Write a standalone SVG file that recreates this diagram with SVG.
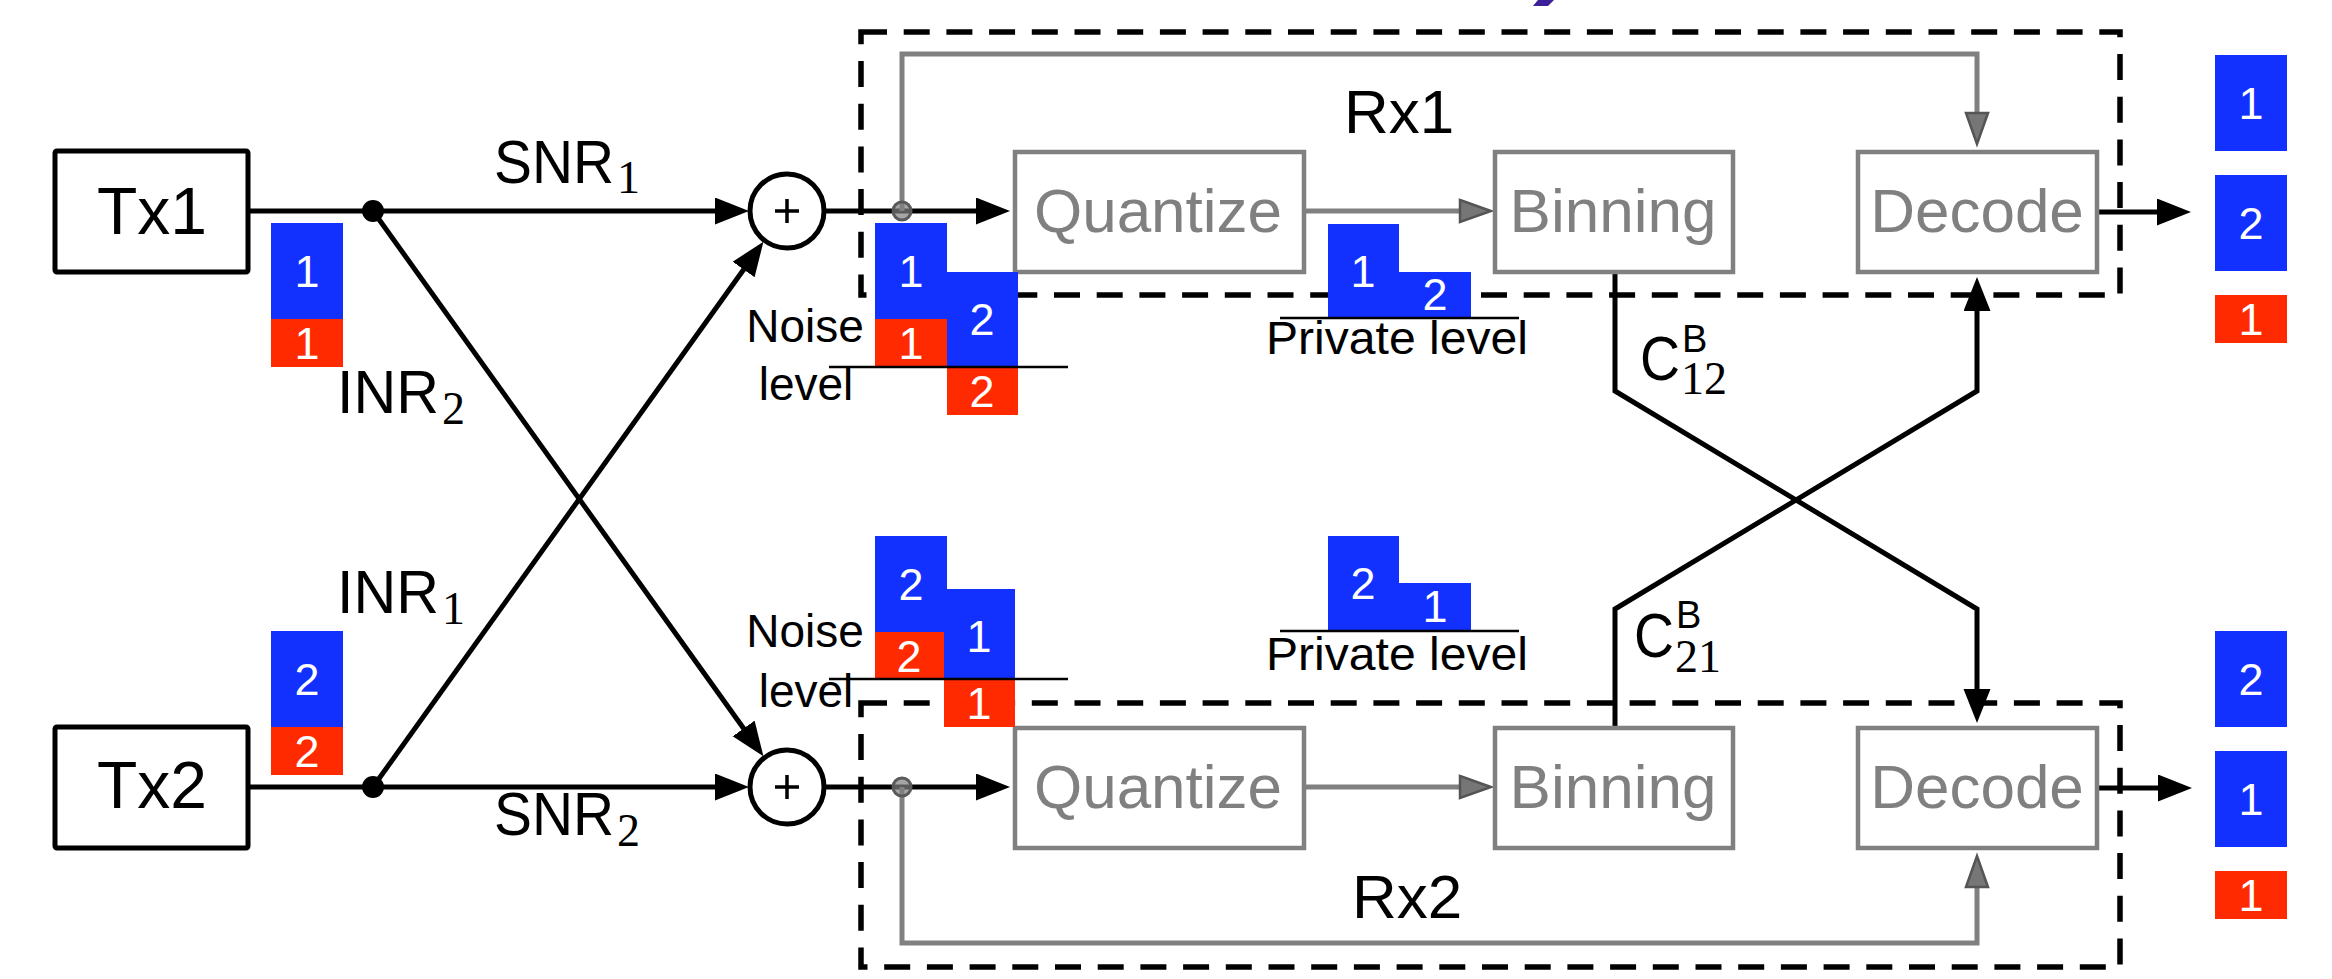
<svg xmlns="http://www.w3.org/2000/svg" width="2332" height="979" viewBox="0 0 2332 979">
<style>
.sans{font-family:"Liberation Sans",Arial,sans-serif}
.serif{font-family:"Liberation Serif","Times New Roman",serif}
.box{fill:#fff;stroke:#000;stroke-width:5}
.gbox{fill:#fff;stroke:#808080;stroke-width:4.5}
.gtxt{font-family:"Liberation Sans",Arial,sans-serif;font-size:62px;fill:#808080;text-anchor:middle}
.blk{font-family:"Liberation Sans",Arial,sans-serif;font-size:45px;fill:#fff;text-anchor:middle}
.blue{fill:#1231ff}
.red{fill:#ff2a00}
.ln{fill:none;stroke:#000;stroke-width:5}
.gln{fill:none;stroke:#808080;stroke-width:5}
.dash{fill:none;stroke:#000;stroke-width:5.5;stroke-dasharray:26 16.7}
.thin{stroke:#000;stroke-width:2.5}
.lbl{font-family:"Liberation Sans",Arial,sans-serif;fill:#000}
</style>
<defs>
<marker id="ah" markerUnits="userSpaceOnUse" markerWidth="36" markerHeight="28" refX="1" refY="13.5" orient="auto">
<path d="M0,0 L34,13.5 L0,27 Z" fill="#000"/>
</marker>
<marker id="gah" markerUnits="userSpaceOnUse" markerWidth="38" markerHeight="30" refX="2" refY="14" orient="auto">
<path d="M2,3 L33,14 L2,25 Z" fill="#767676" stroke="#555" stroke-width="2.5" stroke-linejoin="miter"/>
</marker>
</defs>
<rect width="2332" height="979" fill="#fff"/>
<polygon points="1538,0 1554,0 1548,6 1533,6" fill="#3c1f99"/>

<g id="rx1-frame"><rect class="dash" x="861" y="32" width="1259" height="263"/></g>
<g id="rx2-frame"><rect class="dash" x="861" y="703" width="1259" height="264"/></g>

<g id="connectors">
<path class="ln" d="M248,211 H716" marker-end="url(#ah)"/>
<path class="ln" d="M248,787 H716" marker-end="url(#ah)"/>
<path class="ln" d="M373,211 L744.2,729.3" marker-end="url(#ah)"/>
<path class="ln" d="M373,787 L744.2,268.7" marker-end="url(#ah)"/>
<path class="ln" d="M824,211 H977" marker-end="url(#ah)"/>
<path class="ln" d="M824,787 H977" marker-end="url(#ah)"/>
<path class="ln" d="M2097,212 H2158" marker-end="url(#ah)"/>
<path class="ln" d="M2097,788 H2159" marker-end="url(#ah)"/>
<path class="ln" d="M1615,272 V391 L1977,609 V690" marker-end="url(#ah)"/>
<path class="ln" d="M1615,728 V609 L1977,391 V310" marker-end="url(#ah)"/>
<path class="gln" d="M902,211 V54 H1977 V113" marker-end="url(#gah)"/>
<path class="gln" d="M902,787 V943 H1977 V887" marker-end="url(#gah)"/>
<path class="gln" d="M1304,211 H1460" marker-end="url(#gah)"/>
<path class="gln" d="M1304,787 H1460" marker-end="url(#gah)"/>
<circle cx="902" cy="211" r="9" fill="#808080" fill-opacity="0.7" stroke="#5a5a5a" stroke-width="3"/>
<circle cx="902" cy="787" r="9" fill="#808080" fill-opacity="0.7" stroke="#5a5a5a" stroke-width="3"/>
<circle cx="373" cy="211" r="11" fill="#000"/>
<circle cx="373" cy="787" r="11" fill="#000"/>
</g>

<g id="tx1">
<rect class="box" x="55" y="151" width="193" height="121" rx="2"/>
<text class="lbl" x="97" y="234" font-size="66">Tx1</text>
</g>
<g id="tx2">
<rect class="box" x="55" y="727" width="193" height="121" rx="2"/>
<text class="lbl" x="97" y="808" font-size="66">Tx2</text>
</g>

<g id="tx1-levels">
<rect class="blue" x="271" y="223" width="72" height="96"/><text class="blk" x="307" y="287">1</text>
<rect class="red" x="271" y="319" width="72" height="48"/><text class="blk" x="307" y="359">1</text>
</g>
<g id="tx2-levels">
<rect class="blue" x="271" y="631" width="72" height="96"/><text class="blk" x="307" y="695">2</text>
<rect class="red" x="271" y="727" width="72" height="48"/><text class="blk" x="307" y="767">2</text>
</g>

<g id="labels">
<text class="lbl" x="494" y="183" font-size="62" textLength="120" lengthAdjust="spacingAndGlyphs">SNR</text>
<text class="serif" x="617" y="193" font-size="46">1</text>
<text class="lbl" x="494" y="835" font-size="62" textLength="120" lengthAdjust="spacingAndGlyphs">SNR</text>
<text class="serif" x="617" y="846" font-size="46">2</text>
<text class="lbl" x="337" y="413" font-size="62" textLength="102" lengthAdjust="spacingAndGlyphs">INR</text>
<text class="serif" x="442" y="424" font-size="46">2</text>
<text class="lbl" x="337" y="613" font-size="62" textLength="102" lengthAdjust="spacingAndGlyphs">INR</text>
<text class="serif" x="442" y="624" font-size="46">1</text>
<text class="lbl" x="1640" y="380" font-size="63" textLength="40" lengthAdjust="spacingAndGlyphs">C</text>
<text class="lbl" x="1682" y="352" font-size="38">B</text>
<text class="serif" x="1681" y="394" font-size="46">12</text>
<text class="lbl" x="1634" y="657" font-size="63" textLength="40" lengthAdjust="spacingAndGlyphs">C</text>
<text class="lbl" x="1676" y="628" font-size="38">B</text>
<text class="serif" x="1675" y="672" font-size="46">21</text>
<text class="lbl" x="1344" y="133" font-size="62">Rx1</text>
<text class="lbl" x="1352" y="918" font-size="62">Rx2</text>
</g>

<g id="sum1">
<circle cx="787" cy="211" r="37" fill="#fff" stroke="#000" stroke-width="5"/>
<path d="M775,211 H799 M787,199 V223" stroke="#000" stroke-width="3.5"/>
</g>
<g id="sum2">
<circle cx="787" cy="787" r="37" fill="#fff" stroke="#000" stroke-width="5"/>
<path d="M775,787 H799 M787,775 V799" stroke="#000" stroke-width="3.5"/>
</g>

<g id="quantize1"><rect class="gbox" x="1015" y="152" width="289" height="120"/><text class="gtxt" x="1158" y="232">Quantize</text></g>
<g id="binning1"><rect class="gbox" x="1495" y="152" width="238" height="120"/><text class="gtxt" x="1613" y="232">Binning</text></g>
<g id="decode1"><rect class="gbox" x="1858" y="152" width="239" height="120"/><text class="gtxt" x="1977" y="232">Decode</text></g>
<g id="quantize2"><rect class="gbox" x="1015" y="728" width="289" height="120"/><text class="gtxt" x="1158" y="808">Quantize</text></g>
<g id="binning2"><rect class="gbox" x="1495" y="728" width="238" height="120"/><text class="gtxt" x="1613" y="808">Binning</text></g>
<g id="decode2"><rect class="gbox" x="1858" y="728" width="239" height="120"/><text class="gtxt" x="1977" y="808">Decode</text></g>

<g id="rx1-noise">
<rect class="blue" x="875" y="223" width="72" height="96"/><text class="blk" x="911" y="287">1</text>
<rect class="red" x="875" y="319" width="72" height="48"/><text class="blk" x="911" y="359">1</text>
<rect class="blue" x="947" y="272" width="71" height="95"/><text class="blk" x="982" y="335">2</text>
<rect class="red" x="947" y="367" width="71" height="48"/><text class="blk" x="982" y="407">2</text>
<line class="thin" x1="829" y1="367" x2="1068" y2="367"/>
<text class="lbl" x="805" y="342" font-size="46" text-anchor="middle">Noise</text>
<text class="lbl" x="806" y="400" font-size="46" text-anchor="middle">level</text>
</g>
<g id="rx2-noise">
<rect class="blue" x="875" y="536" width="72" height="96"/><text class="blk" x="911" y="600">2</text>
<rect class="red" x="875" y="632" width="69" height="47"/><text class="blk" x="909" y="672">2</text>
<rect class="blue" x="944" y="589" width="71" height="90"/><text class="blk" x="979" y="652">1</text>
<rect class="red" x="944" y="679" width="71" height="48"/><text class="blk" x="979" y="719">1</text>
<line class="thin" x1="829" y1="679" x2="1068" y2="679"/>
<text class="lbl" x="805" y="647" font-size="46" text-anchor="middle">Noise</text>
<text class="lbl" x="806" y="707" font-size="46" text-anchor="middle">level</text>
</g>

<g id="rx1-private">
<rect class="blue" x="1328" y="224" width="71" height="95"/><text class="blk" x="1363" y="287">1</text>
<rect class="blue" x="1399" y="272" width="72" height="47"/><text class="blk" x="1435" y="310">2</text>
<line class="thin" x1="1280" y1="318" x2="1519" y2="318"/>
<text class="lbl" x="1266" y="354" font-size="47" textLength="262" lengthAdjust="spacingAndGlyphs">Private level</text>
</g>
<g id="rx2-private">
<rect class="blue" x="1328" y="536" width="71" height="95"/><text class="blk" x="1363" y="599">2</text>
<rect class="blue" x="1399" y="583" width="72" height="48"/><text class="blk" x="1435" y="622">1</text>
<line class="thin" x1="1280" y1="631" x2="1519" y2="631"/>
<text class="lbl" x="1266" y="670" font-size="47" textLength="262" lengthAdjust="spacingAndGlyphs">Private level</text>
</g>

<g id="rx1-output">
<rect class="blue" x="2215" y="55" width="72" height="96"/><text class="blk" x="2251" y="119">1</text>
<rect class="blue" x="2215" y="175" width="72" height="96"/><text class="blk" x="2251" y="239">2</text>
<rect class="red" x="2215" y="295" width="72" height="48"/><text class="blk" x="2251" y="335">1</text>
</g>
<g id="rx2-output">
<rect class="blue" x="2215" y="631" width="72" height="96"/><text class="blk" x="2251" y="695">2</text>
<rect class="blue" x="2215" y="751" width="72" height="96"/><text class="blk" x="2251" y="815">1</text>
<rect class="red" x="2215" y="871" width="72" height="48"/><text class="blk" x="2251" y="911">1</text>
</g>
</svg>
